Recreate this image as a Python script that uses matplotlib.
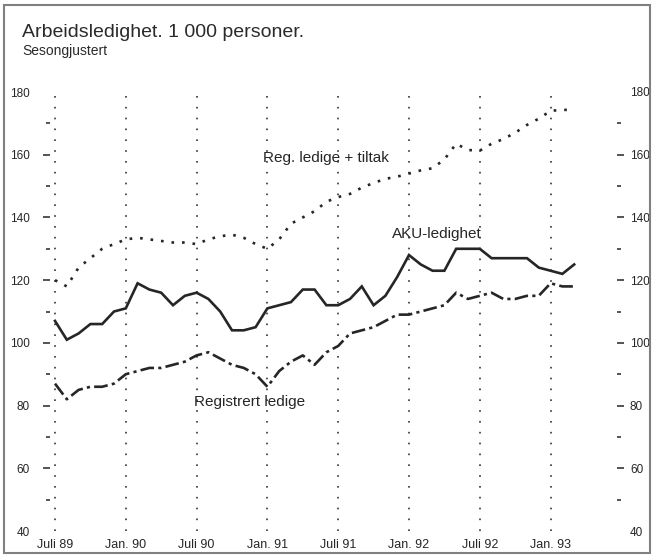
import numpy as np
import matplotlib
matplotlib.use("Agg")
import matplotlib.pyplot as plt
from matplotlib.patches import Rectangle

# ------------------------------------------------------------
# data (monthly, Juli 1989 - Mars 1993), 1 000 personer
# ------------------------------------------------------------
aku = [107, 101, 103, 106, 106, 110, 111, 119, 117, 116,
       112, 115, 116, 114, 110, 104, 104, 105, 111, 112,
       113, 117, 117, 112, 112, 114, 118, 112, 115, 121,
       128, 125, 123, 123, 130, 130, 130, 127, 127, 127,
       127, 124, 123, 122, 125]

registrert = [87, 82, 85, 86, 86, 87, 90, 91, 92, 92,
              93, 94, 96, 97, 95, 93, 92, 90, 86, 91,
              94, 96, 93, 97, 99, 103, 104, 105, 107, 109,
              109, 110, 111, 112, 116, 114, 115, 116, 114, 114,
              115, 115, 119, 118, 118]

reg_tiltak = [120, 118, 124, 127, 130, 131.5, 133, 133.5, 133, 132.5,
              132, 132, 131.5, 133, 134, 134.5, 133.5, 131.5, 130, 133,
              138, 140, 142, 145, 146.5, 147.5, 149.5, 151, 152.3, 153,
              154, 155, 155.7, 158.5, 163.5, 161.5, 161.3, 163.5, 165, 167,
              169.5, 171.5, 174, 174.3, 174.3]

x_labels = ["Juli 89", "Jan. 90", "Juli 90", "Jan. 91",
            "Juli 91", "Jan. 92", "Juli 92", "Jan. 93"]
x_ticks = list(range(0, 6 * len(x_labels), 6))
y_major = [40, 60, 80, 100, 120, 140, 160, 180]
y_minor = [50, 70, 90, 110, 130, 150, 170]

# ------------------------------------------------------------
# style
# ------------------------------------------------------------
plt.rcParams['font.family'] = ['Liberation Sans', 'DejaVu Sans']
ink = '#262626'

W, H = 653, 556
fig = plt.figure(figsize=(W / 100, H / 100), dpi=100)
fig.patch.set_facecolor('white')

# axes box in pixels: x 50..617, y 92..531
ax = fig.add_axes([50 / W, (H - 531) / H, 567 / W, 439 / H])
ax.set_facecolor('none')
for s in ax.spines.values():
    s.set_visible(False)

x = np.arange(len(aku))

ax.plot(x, reg_tiltak, color=ink, lw=1.9, linestyle=(0, (1, 3)), zorder=3)
ax.plot(x, aku, color=ink, lw=1.9, solid_joinstyle='miter', zorder=4)
ax.plot(x, registrert, color=ink, lw=1.9, linestyle=(0, (5.2, 1.6, 1.2, 1.6)), zorder=4)

# vertical dotted guides
for t in x_ticks:
    ax.axvline(t, color='#333333', lw=1.2, linestyle=(0, (1, 5.5)), zorder=1)

ax.set_xlim(-0.424, 47.63)
ax.set_ylim(40, 180)

ax.set_xticks(x_ticks)
ax.set_xticklabels(x_labels)
ax.tick_params(axis='x', length=0, pad=6, labelsize=9, colors=ink)

# right-hand scale on a twin axis so its labels can sit closer
ax2 = ax.twinx()
for s in ax2.spines.values():
    s.set_visible(False)
ax2.set_ylim(ax.get_ylim())

for a, side, pad in ((ax, 'left', 9.5), (ax2, 'right', 4.3)):
    a.set_yticks(y_major)
    a.set_yticks(y_minor, minor=True)
    a.tick_params(axis='y', which='major', direction='out', length=5, width=1.1,
                  pad=pad, labelsize=8.5, colors=ink)
    a.tick_params(axis='y', which='minor', direction='out', length=3, width=1.1,
                  colors=ink)
    ticks = a.yaxis.get_major_ticks()
    for t in (ticks[0], ticks[-1]):
        t.tick1line.set_visible(False)
        t.tick2line.set_visible(False)

# series labels
ax.text(17.6, 157.7, "Reg. ledige + tiltak", fontsize=11, color=ink, va='baseline', ha='left')
ax.text(28.6, 133.4, "AKU-ledighet", fontsize=11, color=ink, va='baseline', ha='left')
ax.text(11.8, 79.9, "Registrert ledige", fontsize=11, color=ink, va='baseline', ha='left')

# titles
fig.text(22 / W, (H - 37) / H, "Arbeidsledighet. 1 000 personer.", fontsize=14,
         color='#2a2a2a', va='baseline', ha='left')
fig.text(22 / W, (H - 55) / H, "Sesongjustert", fontsize=10,
         color='#2a2a2a', va='baseline', ha='left')

# outer frame
fig.patches.append(Rectangle((4 / W, 3 / H), 646 / W, 548 / H, transform=fig.transFigure,
                             fill=False, edgecolor='#808080', lw=1.5))

fig.savefig("out.png", dpi=100)
